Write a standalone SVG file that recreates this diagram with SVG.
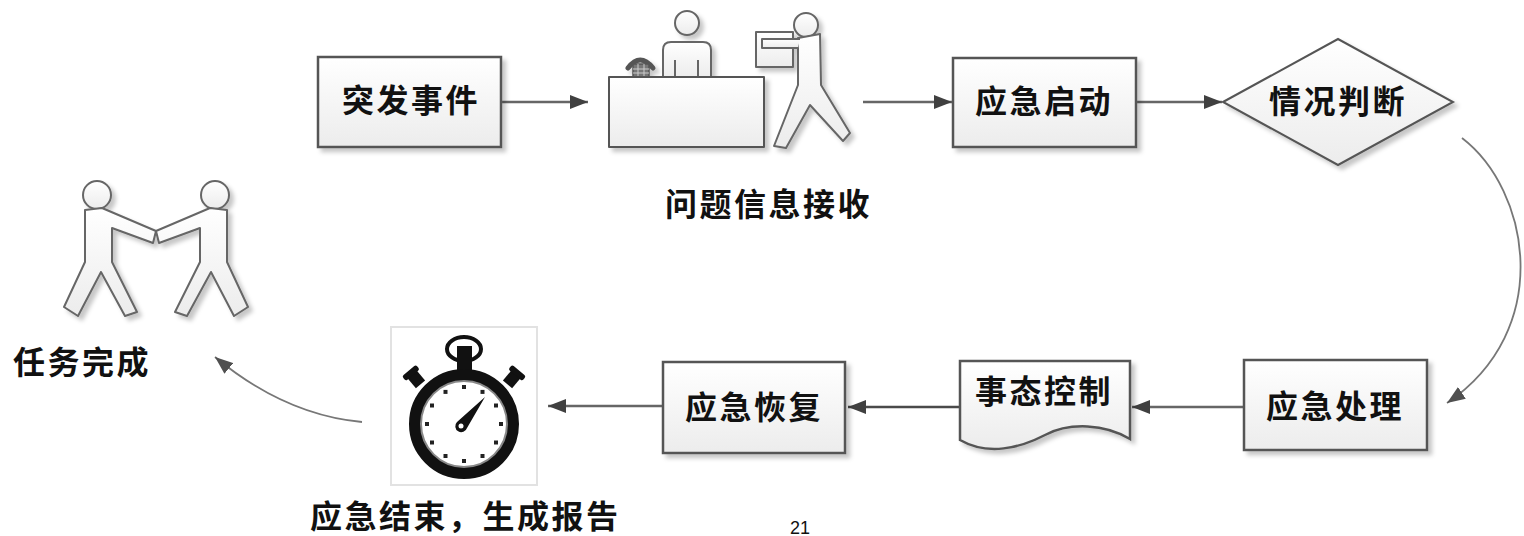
<svg xmlns="http://www.w3.org/2000/svg" width="1524" height="536" viewBox="0 0 1524 536">
  <defs>
    <linearGradient id="boxFill" x1="0" y1="0" x2="0" y2="1">
      <stop offset="0" stop-color="#ffffff"/>
      <stop offset="1" stop-color="#ececec"/>
    </linearGradient>
    <filter id="shadow" x="-10%" y="-10%" width="130%" height="130%">
      <feDropShadow dx="4" dy="4" stdDeviation="2" flood-color="#000" flood-opacity="0.22"/>
    </filter>
    <marker id="arrow" viewBox="0 0 18 14" refX="18" refY="7" markerWidth="18" markerHeight="14" markerUnits="userSpaceOnUse" orient="auto">
      <path d="M0,0 L18,7 L0,14 Z" fill="#404040"/>
    </marker>
    <marker id="arrowCurve" viewBox="0 0 18 14" refX="18" refY="7" markerWidth="18" markerHeight="14" markerUnits="userSpaceOnUse" orient="auto">
      <path d="M0,0 L18,7 L0,14 Z" fill="#505050"/>
    </marker>
    <!-- walking figure, mirrored for the handshake pair -->
    <g id="walker">
      <circle cx="97" cy="195" r="14"/>
      <path d="M85,210 L102,208 L156,231 L153,243 L112,228 L112,262 L137,312 L125,316 L101,272 L78,316 L64,307 L85,262 Z"/>
    </g>
  </defs>
  <style>
    .box { fill: url(#boxFill); stroke: #555; stroke-width: 2.5; filter: url(#shadow); }
    .icon { fill: url(#boxFill); stroke: #666; stroke-width: 2; stroke-linejoin: round; }
    .label { font-family: "Noto Sans CJK SC", "Noto Sans", sans-serif; font-size: 32px; font-weight: 700; fill: #111; letter-spacing: 2.5px; }
    .conn { fill: none; stroke: #666; stroke-width: 2.5; marker-end: url(#arrow); }
    .curve { fill: none; stroke: #777; stroke-width: 1.8; marker-end: url(#arrowCurve); }
    .page { font-family: "Liberation Sans", Arial, sans-serif; font-size: 18px; fill: #111; }
  </style>
  <rect width="1524" height="536" fill="#ffffff"/>

  <!-- connectors -->
  <g id="connectors">
    <path class="conn" d="M501,102 L588,102"/>
    <path class="conn" d="M863,102 L952,102"/>
    <path class="conn" d="M1136,102 L1222,102"/>
    <path class="curve" d="M1462,138 C1530,190 1555,330 1447,403"/>
    <path class="conn" d="M1244,407 L1132,407"/>
    <path class="conn" d="M960,407 L848,407" style="stroke:#4a4a4a"/>
    <path class="conn" d="M663,406 L548,406"/>
    <path class="curve" d="M362,422 Q285,415 215,357"/>
  </g>

  <!-- 突发事件 -->
  <g id="node-event">
    <rect class="box" x="318" y="57" width="183" height="90"/>
    <text class="label" x="342" y="112">突发事件</text>
  </g>

  <!-- reception desk with clerk and visitor -->
  <g id="node-receive">
    <g filter="url(#shadow)">
      <!-- clerk -->
      <circle class="icon" cx="687" cy="23" r="12"/>
      <path class="icon" d="M663,78 L663,50 Q663,42 671,42 L703,42 Q711,42 711,50 L711,78"/>
      <path d="M675,60 L675,77 M698,60 L698,77" stroke="#666" stroke-width="2" fill="none"/>
      <!-- telephone -->
      <path d="M628,68 Q640,52 653,68" fill="none" stroke="#555" stroke-width="5" stroke-linecap="round"/>
      <rect x="633" y="64" width="16" height="14" fill="#777" stroke="#555" stroke-width="1.5"/>
      <path d="M633,69 L649,69 M633,73 L649,73 M638,64 L638,78 M644,64 L644,78" stroke="#ccc" stroke-width="1"/>
      <!-- desk -->
      <rect class="icon" x="609" y="77" width="155" height="70" style="stroke:#555"/>
      <!-- visitor carrying a box -->
      <circle class="icon" cx="806" cy="25" r="12"/>
      <rect class="icon" x="756" y="32" width="37" height="35"/>
      <path class="icon" d="M798,38 L820,34 L821,85 L850,133 L843,141 L810,105 L786,148 L774,146 L798,85 Z"/>
      <path class="icon" d="M800,39 L762,39 L762,48 L798,48"/>
    </g>
    <text class="label" x="665" y="216">问题信息接收</text>
  </g>

  <!-- 应急启动 -->
  <g id="node-start">
    <rect class="box" x="953" y="58" width="183" height="89"/>
    <text class="label" x="975" y="113">应急启动</text>
  </g>

  <!-- 情况判断 -->
  <g id="node-judge">
    <polygon class="box" points="1223,102 1338,39 1453,102 1338,165" style="stroke-width:2"/>
    <text class="label" x="1269" y="113">情况判断</text>
  </g>

  <!-- 应急处理 -->
  <g id="node-handle">
    <rect class="box" x="1244" y="360" width="183" height="90"/>
    <text class="label" x="1266" y="418">应急处理</text>
  </g>

  <!-- 事态控制 (document shape) -->
  <g id="node-control">
    <path class="box" d="M960,361 L1130,361 L1130,439 C1105,424 1070,422 1045,435 C1020,448 988,456 960,440 Z"/>
    <text class="label" x="975" y="403">事态控制</text>
  </g>

  <!-- 应急恢复 -->
  <g id="node-recover">
    <rect class="box" x="663" y="362" width="182" height="91"/>
    <text class="label" x="685" y="419">应急恢复</text>
  </g>

  <!-- stopwatch -->
  <g id="node-end">
    <rect x="391" y="327" width="146" height="158" fill="#ffffff" stroke="#e2e2e2" stroke-width="2"/>
    <ellipse cx="464" cy="349" rx="17" ry="12" fill="none" stroke="#111" stroke-width="4"/>
    <rect x="457" y="346" width="15" height="26" fill="#111"/>
    <g transform="rotate(-40 416 379)">
      <rect x="410" y="370" width="12" height="16" fill="#111"/>
      <rect x="407" y="368" width="18" height="6" rx="2" fill="#111"/>
    </g>
    <g transform="rotate(40 512 379)">
      <rect x="506" y="370" width="12" height="16" fill="#111"/>
      <rect x="503" y="368" width="18" height="6" rx="2" fill="#111"/>
    </g>
    <circle cx="464" cy="424" r="49" fill="#ffffff" stroke="#111" stroke-width="12"/>
    <circle cx="464" cy="424" r="43" fill="none" stroke="#888" stroke-width="2"/>
    <g fill="#222">
      <rect x="462" y="385" width="4" height="4"/>
      <rect x="462" y="459" width="4" height="4"/>
      <rect x="425" y="422" width="4" height="4"/>
      <rect x="499" y="422" width="4" height="4"/>
      <rect x="480.5" y="389.9" width="4" height="4"/>
      <rect x="494" y="403.5" width="4" height="4"/>
      <rect x="494" y="440.5" width="4" height="4"/>
      <rect x="480.5" y="454" width="4" height="4"/>
      <rect x="443.5" y="454" width="4" height="4"/>
      <rect x="430" y="440.5" width="4" height="4"/>
      <rect x="430" y="403.5" width="4" height="4"/>
      <rect x="443.5" y="389.9" width="4" height="4"/>
    </g>
    <path d="M485,397 L467,428 A6,6 0 1 1 457,422 Z" fill="#111"/>
    <circle cx="461" cy="426" r="2.5" fill="#fff"/>
    <text class="label" x="310" y="528">应急结束，生成报告</text>
  </g>

  <!-- 任务完成: two figures shaking hands -->
  <g id="node-done">
    <g class="icon" filter="url(#shadow)">
      <use href="#walker"/>
      <use href="#walker" transform="translate(312,0) scale(-1,1)"/>
    </g>
    <text class="label" x="13" y="374">任务完成</text>
  </g>

  <text class="page" x="790" y="534">21</text>
</svg>
